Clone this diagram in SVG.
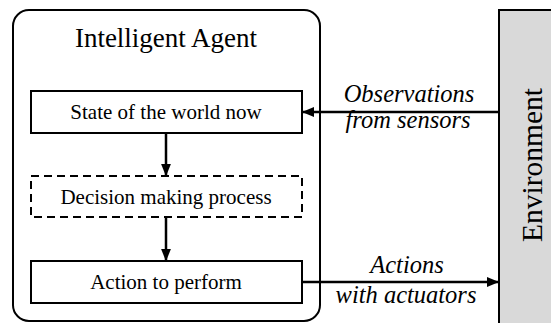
<svg xmlns="http://www.w3.org/2000/svg" width="551" height="323" viewBox="0 0 551 323">
  <style>
    .box { fill: #ffffff; stroke: #000000; stroke-width: 2; }
    .dash { stroke-dasharray: 8 5; }
    .lbl { font-family: 'Liberation Serif', serif; fill: #000000; text-anchor: middle; }
    .it { font-style: italic; font-size: 24.5px; }
    .wire { stroke: #000000; stroke-width: 2.5; fill: none; }
  </style>
  <defs>
    <marker id="arrow" viewBox="0 0 10 10" refX="9" refY="5" markerWidth="5" markerHeight="5" orient="auto" markerUnits="strokeWidth">
      <path d="M0,1 L10,5 L0,9 Z" fill="#000000"/>
    </marker>
  </defs>
  <rect width="551" height="323" fill="#ffffff"/>

  <g id="agent">
    <rect x="13" y="10" width="307" height="311" rx="16" ry="16" fill="#ffffff" stroke="#000000" stroke-width="2"/>
    <text class="lbl" x="166" y="47" font-size="27">Intelligent Agent</text>
  </g>

  <g id="environment">
    <rect x="499" y="10" width="60" height="320" fill="#d9d9d9" stroke="#000000" stroke-width="2"/>
    <text class="lbl" x="542" y="165" font-size="29.5" transform="rotate(-90 542 165)">Environment</text>
  </g>

  <g id="state">
    <rect class="box" x="31" y="91" width="271" height="42"/>
    <text class="lbl" x="166" y="119" font-size="21">State of the world now</text>
  </g>

  <g id="decision">
    <rect class="box dash" x="31" y="176" width="271" height="41"/>
    <text class="lbl" x="166" y="204" font-size="21">Decision making process</text>
  </g>

  <g id="action">
    <rect class="box" x="31" y="261" width="271" height="42"/>
    <text class="lbl" x="166" y="289" font-size="21">Action to perform</text>
  </g>

  <g id="connectors">
    <line class="wire" x1="499" y1="112" x2="303" y2="112" marker-end="url(#arrow)"/>
    <line class="wire" x1="166" y1="133" x2="166" y2="175" marker-end="url(#arrow)"/>
    <line class="wire" x1="166" y1="217" x2="166" y2="260" marker-end="url(#arrow)"/>
    <line class="wire" x1="302" y1="282" x2="498" y2="282" marker-end="url(#arrow)"/>
    <text class="lbl it" x="409" y="102">Observations</text>
    <text class="lbl it" x="408" y="128">from sensors</text>
    <text class="lbl it" x="407" y="273">Actions</text>
    <text class="lbl it" x="406" y="303">with actuators</text>
  </g>
</svg>
